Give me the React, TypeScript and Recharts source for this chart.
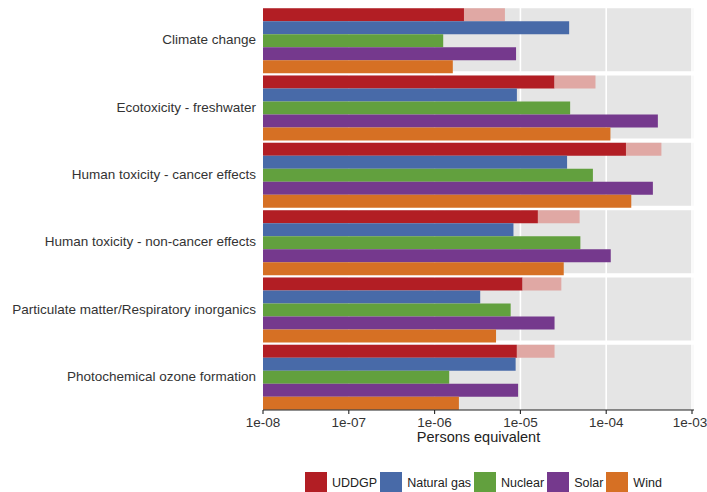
import React from "react";
import { BarChart, Bar, XAxis, YAxis, CartesianGrid, Legend } from "recharts";

// Impact categories, one facet each
const categories = [
  "Climate change",
  "Ecotoxicity - freshwater",
  "Human toxicity - cancer effects",
  "Human toxicity - non-cancer effects",
  "Particulate matter/Respiratory inorganics",
  "Photochemical ozone formation",
];

// Normalised impacts (persons equivalent)
const uddgpLow = [2.2e-6, 2.5e-5, 1.7e-4, 1.6e-5, 1.06e-5, 9.1e-6];
const uddgpHigh = [6.6e-6, 7.5e-5, 4.4e-4, 4.9e-5, 3.0e-5, 2.5e-5];
const naturalGas = [3.7e-5, 9.1e-6, 3.5e-5, 8.3e-6, 3.4e-6, 8.8e-6];
const nuclear = [1.26e-6, 3.8e-5, 7.0e-5, 5.0e-5, 7.7e-6, 1.48e-6];
const solar = [8.9e-6, 4.0e-4, 3.5e-4, 1.13e-4, 2.5e-5, 9.4e-6];
const wind = [1.63e-6, 1.12e-4, 1.96e-4, 3.2e-5, 5.2e-6, 1.92e-6];

const tickValues = [1e-8, 1e-7, 1e-6, 1e-5, 1e-4, 1e-3];
const tickLabels = ["1e-08", "1e-07", "1e-06", "1e-05", "1e-04", "1e-03"];

const sourceNames = ["UDDGP", "Natural gas", "Nuclear", "Solar", "Wind"];
const COLORS: Record<string, string> = {
  UDDGP: "#B21E24",
  range: "#E0A8A4",
  "Natural gas": "#486AA8",
  Nuclear: "#62A03E",
  Solar: "#75398D",
  Wind: "#D67024",
};

const data = categories.map((category, i) => ({
  category,
  UDDGP: uddgpLow[i],
  uddgpRange: uddgpHigh[i] - uddgpLow[i],
  "Natural gas": naturalGas[i],
  Nuclear: nuclear[i],
  Solar: solar[i],
  Wind: wind[i],
}));

const FONT = "'Liberation Sans', Arial, Helvetica, sans-serif";

const renderLegend = (props: any) => {
  const payload = props.payload || [];
  const items = sourceNames
    .map((name) => payload.find((p: any) => p.value === name))
    .filter(Boolean);
  return (
    <div style={{ display: "flex", alignItems: "center", fontFamily: FONT }}>
      {items.map((p: any) => (
        <div
          key={p.value}
          style={{ display: "flex", alignItems: "center", marginRight: 3 }}
        >
          <div style={{ width: 22, height: 22, background: p.color }} />
          <span
            style={{
              marginLeft: 5,
              fontSize: 12.5,
              color: "#222",
              lineHeight: "22px",
              whiteSpace: "nowrap",
            }}
          >
            {p.value}
          </span>
        </div>
      ))}
    </div>
  );
};

// Facet titles on one line, right-aligned against the panels
const CategoryTick = (props: any) => {
  const { x, y, payload } = props;
  return (
    <text
      x={x}
      y={y}
      dy="0.35em"
      textAnchor="end"
      fontSize={13.5}
      fill="#333"
    >
      {payload.value}
    </text>
  );
};

// Decade labels; the last one is nudged so it stays inside the frame
const DecadeTick = (props: any) => {
  const { x, y, index, payload } = props;
  const last = index === tickValues.length - 1;
  return (
    <text
      x={x}
      y={y}
      dy="0.71em"
      dx={last ? -2 : 0}
      textAnchor="middle"
      fontSize={13.5}
      fill="#333"
    >
      {tickLabels[tickValues.indexOf(payload.value)]}
    </text>
  );
};

// White separators between the facet panels
const facetBoundaries = ({ offset }: any) =>
  categories.map((_, i) => offset.top + (i * offset.height) / categories.length);

export default function App() {
  return (
    <div
      style={{
        position: "absolute",
        left: 0,
        top: 0,
        width: 707,
        height: 492,
        background: "#fff",
        fontFamily: FONT,
        overflow: "hidden",
      }}
    >
      <BarChart
        width={707}
        height={492}
        data={data}
        layout="vertical"
        margin={{ top: 6, right: 13, bottom: 42, left: 8 }}
        barCategoryGap={2.2}
        barGap={0}
      >
        <CartesianGrid
          horizontal={false}
          fill="#E5E5E5"
          stroke="#FFFFFF"
          strokeWidth={1.6}
        />
        <CartesianGrid
          vertical={false}
          stroke="#FFFFFF"
          strokeWidth={4.4}
          horizontalCoordinatesGenerator={facetBoundaries}
        />
        <XAxis
          type="number"
          scale="log"
          domain={[1e-8, 1.055e-3]}
          allowDataOverflow
          ticks={tickValues}
          interval={0}
          tick={<DecadeTick />}
          tickSize={4}
          tickMargin={3}
          axisLine={{ stroke: "#222", strokeWidth: 1.1 }}
          tickLine={{ stroke: "#222", strokeWidth: 1.1 }}
          height={40}
          label={{
            value: "Persons equivalent",
            position: "insideBottom",
            offset: 8,
            fontSize: 14.5,
            fill: "#222",
          }}
        />
        <YAxis
          type="category"
          dataKey="category"
          width={255}
          axisLine={false}
          tickLine={false}
          tickSize={0}
          tickMargin={7}
          interval={0}
          tick={<CategoryTick />}
        />
        <Legend
          layout="vertical"
          align="center"
          verticalAlign="middle"
          content={renderLegend}
          wrapperStyle={{ left: 305, top: 472 }}
        />
        <Bar
          dataKey="UDDGP"
          name="UDDGP"
          stackId="uddgp"
          fill={COLORS.UDDGP}
          isAnimationActive={false}
        />
        <Bar
          dataKey="uddgpRange"
          name="UDDGP range"
          stackId="uddgp"
          fill={COLORS.range}
          legendType="none"
          isAnimationActive={false}
        />
        <Bar
          dataKey="Natural gas"
          fill={COLORS["Natural gas"]}
          isAnimationActive={false}
        />
        <Bar dataKey="Nuclear" fill={COLORS.Nuclear} isAnimationActive={false} />
        <Bar dataKey="Solar" fill={COLORS.Solar} isAnimationActive={false} />
        <Bar dataKey="Wind" fill={COLORS.Wind} isAnimationActive={false} />
      </BarChart>
    </div>
  );
}
